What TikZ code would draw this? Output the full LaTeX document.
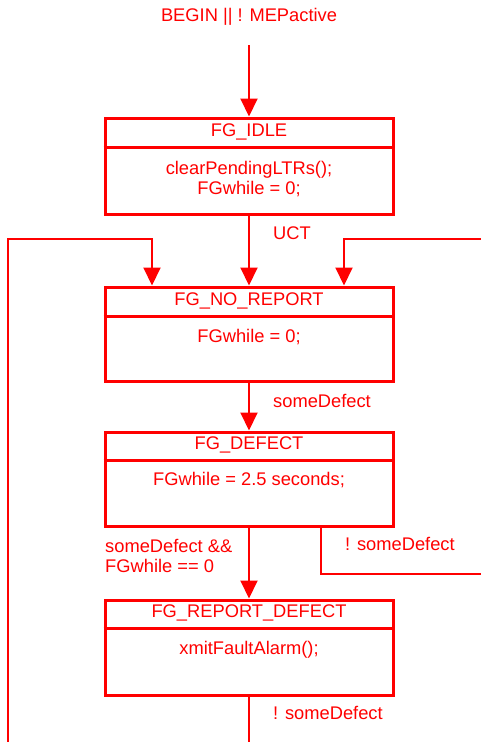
\documentclass[tikz,border=0pt]{standalone}
\usepackage{fontspec}
\setmainfont{Liberation Sans}
\usetikzlibrary{arrows.meta}
\definecolor{fsmred}{RGB}{255,0,0}
\begin{document}
\begin{tikzpicture}[x=1pt,y=-1pt,
  every node/.style={font=\fontsize{18.3}{20.5}\selectfont, text=fsmred, inner sep=0pt},
  state/.style={draw=fsmred, line width=3pt, minimum width=288pt, rectangle},
  divider/.style={draw=fsmred, line width=3pt},
  conn/.style={draw=fsmred, line width=2pt},
  arr/.style={conn, -{Triangle[length=18pt,width=17pt]}},
  lbl/.style={anchor=west, align=left}]
\useasboundingbox (0,0) rectangle (481,742);
% states
\node[state, minimum height=96pt] (idle) at (249,166) {};
\node[state, minimum height=94pt] (norep) at (249,334) {};
\node[state, minimum height=94pt] (defect) at (249,479) {};
\node[state, minimum height=95pt] (report) at (249,647.5) {};
% dividers
\draw[divider] (idle.west |- 0,147) coordinate (d1a) -- (idle.east |- 0,147) coordinate (d1b);
\draw[divider] (norep.west |- 0,316) coordinate (d2a) -- (norep.east |- 0,316) coordinate (d2b);
\draw[divider] (defect.west |- 0,460) coordinate (d3a) -- (defect.east |- 0,460) coordinate (d3b);
\draw[divider] (report.west |- 0,628) coordinate (d4a) -- (report.east |- 0,628) coordinate (d4b);
% texts
\node (idleh) at (249,132) {FG\_IDLE};
\node[align=center] (idleb) at (249,179) {clearPendingLTRs();\\FGwhile = 0;};
\node (norh) at (249,301) {FG\_NO\_REPORT};
\node (norb) at (249,337) {FGwhile = 0;};
\node (defh) at (249,445) {FG\_DEFECT};
\node (defb) at (249,480) {FGwhile = 2.5 seconds;};
\node (reph) at (249,613) {FG\_REPORT\_DEFECT};
\node (repb) at (249,650) {xmitFaultAlarm();};
% begin
\node (begin) at (249,17) {BEGIN || ! MEPactive};
\coordinate (bstart) at (249,45);
\draw[arr] (bstart) -- (idle.north);
% UCT
\draw[arr] (idle.south) -- (norep.north);
\node[lbl] (uct) at (273,233) {UCT};
% left loop
\coordinate (lbot) at (8,742);
\coordinate (ltop) at (8,239);
\coordinate (lcorner) at (152,239);
\draw[arr] (lbot) -- (ltop) -- (lcorner) -- (lcorner |- norep.north);
% right loop
\coordinate (rin) at (481,239);
\coordinate (rcorner) at (344,239);
\draw[arr] (rin) -- (rcorner) -- (rcorner |- norep.north);
% someDefect
\draw[arr] (norep.south) -- (defect.north);
\node[lbl] (sd) at (273,401) {someDefect};
% defect -> report
\draw[arr] (defect.south) -- (report.north);
\node[lbl] (sdand) at (105,556) {someDefect \&\&\\FGwhile == 0};
% defect -> right
\coordinate (dstart) at (321,526);
\coordinate (dcorner) at (321,574);
\coordinate (dout) at (481,574);
\draw[conn] (dstart) -- (dcorner) -- (dout);
\node[lbl] (nsd1) at (345,544) {! someDefect};
% report -> bottom
\coordinate (rout) at (249,742);
\draw[conn] (report.south) -- (rout);
\node[lbl] (nsd2) at (273,713) {! someDefect};
\end{tikzpicture}
\end{document}
